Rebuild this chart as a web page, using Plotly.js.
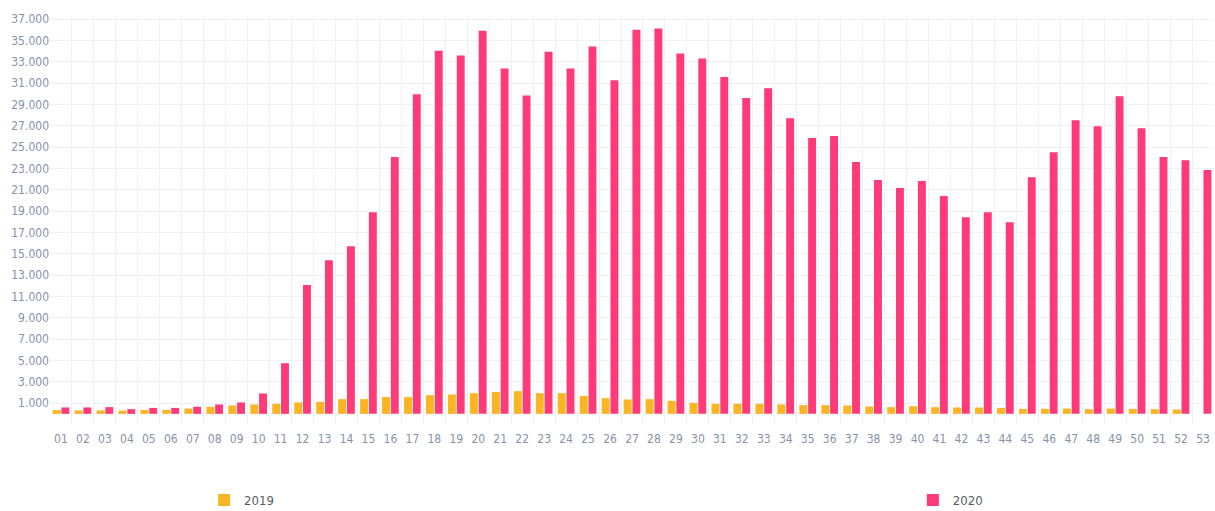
<!DOCTYPE html>
<html><head><meta charset="utf-8">
<script src="https://cdn.plot.ly/plotly-3.0.1.min.js"></script>
<style>html,body{margin:0;padding:0;background:#fff}#chart{width:1215px;height:511px}</style>
</head><body><div id="chart"></div>
<script>
const weeks = ["01","02","03","04","05","06","07","08","09","10","11","12","13","14","15","16","17","18","19","20","21","22","23","24","25","26","27","28","29","30","31","32","33","34","35","36","37","38","39","40","41","42","43","44","45","46","47","48","49","50","51","52","53"];
const values2019 = [350,320,320,300,375,375,500,660,790,880,940,1070,1125,1380,1380,1570,1570,1750,1820,1940,2060,2130,1940,1940,1690,1470,1350,1380,1220,1030,940,940,940,880,820,820,790,690,630,720,630,600,600,560,470,470,500,440,500,470,440,410,null];
const values2020 = [600,600,630,440,560,560,660,880,1070,1910,4750,12070,14400,15720,18900,24070,29970,34030,33600,35900,32380,29850,33940,32380,34440,31260,36000,36130,33790,33320,31570,29600,30530,27720,25850,26040,23600,21910,21160,21820,20410,18440,18900,17970,22190,24530,27530,26970,29780,26780,24070,23780,22850];
const seriesNames = ["2019","2020"];

const tickFont = {family:"DejaVu Sans Condensed, Liberation Sans Narrow, sans-serif", size:12, color:"#8593ab"};
const legFont = {family:"DejaVu Sans Condensed, Liberation Sans Narrow, sans-serif", size:13, color:"#555c66"};
const data = [
  {type:"bar", name:seriesNames[0], x:weeks, y:values2019, marker:{color:"#fbb523"}, legend:"legend"},
  {type:"bar", name:seriesNames[1], x:weeks, y:values2020, marker:{color:"#fe3a78"}, legend:"legend2"}
];
const layout = {
  width:1215, height:511,
  margin:{l:50, r:1, t:17, b:87},
  paper_bgcolor:"#fff", plot_bgcolor:"#fff",
  separators:",.",
  barmode:"group", bargap:0.2, bargroupgap:0.1,
  showlegend:true,
  legend:{orientation:"h", x:0.1324, xanchor:"left", yref:"container", y:0.0215, yanchor:"middle", font:legFont},
  legend2:{orientation:"h", x:0.7413, xanchor:"left", yref:"container", y:0.0215, yanchor:"middle", font:legFont},
  xaxis:{type:"category", tickson:"boundaries", showgrid:true, gridcolor:"#eef2f7", tickangle:0,
    ticks:"", ticklabelstandoff:6, tickfont:tickFont, zeroline:false, showline:false, automargin:false},
  yaxis:{range:[-950,37200], tickmode:"linear", tick0:1000, dtick:2000, tickformat:",d",
    showgrid:true, gridcolor:"#eef2f7", zeroline:false, showline:false, ticks:"",
    tickfont:tickFont, automargin:false}
};
Plotly.newPlot("chart", data, layout, {displayModeBar:false, staticPlot:true});
</script>
</body></html>
